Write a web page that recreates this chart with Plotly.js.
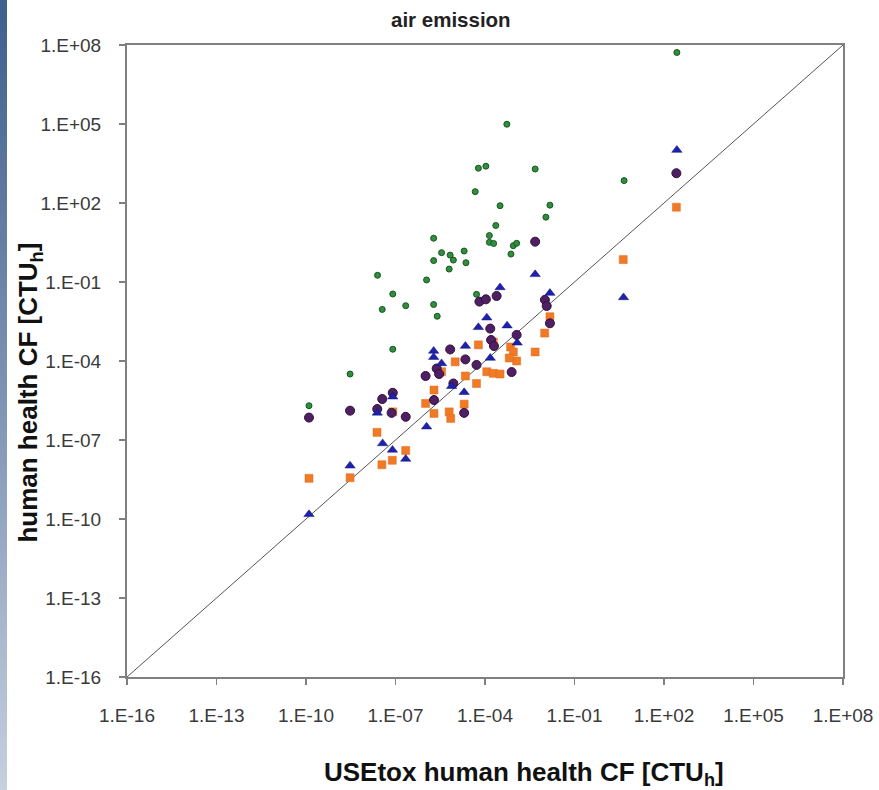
<!DOCTYPE html>
<html>
<head>
<meta charset="utf-8">
<script src="https://cdn.plot.ly/plotly-3.0.1.min.js"></script>
<style>
  html, body { margin: 0; padding: 0; background: #ffffff; }
  #wrap { position: relative; width: 879px; height: 790px; }
  #strip { position: absolute; left: 0; top: 0; width: 7px; height: 790px;
           background: linear-gradient(to bottom, #3f5f8c 0%, #7d93b3 50%, #c6d0de 100%); }
  #chart { position: absolute; left: 0; top: 0; width: 879px; height: 790px; }
</style>
</head>
<body>
<div id="wrap"><div id="strip"></div><div id="chart"></div></div>
<script>
// USEtox human health CF (x) vs. other model human health CF (y), air emission
const greenX = [2.7e2, 5.4e-4, 6.0e-5, 1.07e-4, 4.8e-3, 4.7e-5, 4.6, 3.2e-4, 1.5e-2, 1.1e-2,
  2.3e-4, 1.4e-4, 1.4e-4, 1.95e-4, 8.9e-4, 1.15e-3, 7.4e-4, 1.9e-6, 3.5e-6, 6.8e-6,
  8.7e-6, 2.0e-5, 1.9e-6, 2.3e-5, 6.3e-6, 1.1e-6, 2.5e-8, 8.1e-8, 3.6e-8, 2.2e-7,
  1.9e-6, 2.5e-6, 8.1e-8, 3.0e-9, 1.26e-10, 5.2e-5];
const greenY = [5.2e7, 9.8e4, 2.1e3, 2.5e3, 1.95e3, 2.7e2, 7.1e2, 79, 83, 29,
  14, 5.8, 3.2, 2.9, 2.4, 2.95, 1.15, 4.6, 1.3, 1.05,
  0.68, 1.5, 0.65, 0.54, 0.31, 0.12, 0.18, 3.5e-2, 9.1e-3, 1.26e-2,
  1.4e-2, 5.0e-3, 2.8e-4, 3.2e-5, 2.0e-6, 3.4e-2];

const purpleX = [2.6e2, 4.8e-3, 6.5e-5, 1.07e-4, 2.45e-4, 1.02e-2, 1.17e-2, 1.5e-4, 1.6e-4, 2.0e-4,
  1.15e-3, 1.5e-2, 6.8e-6, 2.2e-5, 5.2e-5, 7.8e-4, 1.02e-6, 2.4e-6, 2.9e-6, 8.7e-6,
  1.95e-6, 2.0e-5, 8.1e-8, 3.6e-8, 2.45e-8, 7.4e-8, 2.2e-7, 3.0e-9, 1.26e-10];
const purpleY = [1.35e3, 3.4, 1.8e-2, 2.2e-2, 2.95e-2, 2.1e-2, 1.23e-2, 1.7e-3, 6.3e-4, 3.7e-4,
  9.8e-4, 2.7e-3, 2.75e-4, 1.15e-4, 7.1e-5, 3.8e-5, 2.7e-5, 5.2e-5, 3.2e-5, 1.4e-5,
  3.3e-6, 1.07e-6, 6.2e-6, 3.6e-6, 1.5e-6, 1.07e-6, 7.6e-7, 1.3e-6, 7.1e-7];

const blueX = [2.7e2, 4.4, 4.8e-3, 3.2e-4, 1.5e-2, 1.15e-4, 6.0e-5, 5.5e-4, 1.2e-3, 1.5e-4,
  2.2e-5, 1.9e-6, 1.9e-6, 3.5e-6, 7.6e-6, 2.0e-5, 8.1e-8, 2.45e-8, 1.1e-6, 3.7e-8,
  7.9e-8, 2.2e-7, 3.0e-9, 1.26e-10];
const blueY = [1.02e4, 2.6e-2, 0.195, 6.2e-2, 3.8e-2, 4.4e-3, 1.9e-3, 2.2e-3, 4.9e-4, 1.3e-4,
  3.7e-4, 2.4e-4, 1.4e-4, 8.1e-5, 1.1e-5, 6.5e-6, 4.4e-6, 1.07e-6, 3.2e-7, 7.4e-8,
  4.2e-8, 1.9e-8, 1.05e-8, 1.5e-10];

const orangeX = [2.6e2, 4.3, 1.5e-2, 1.0e-2, 4.8e-3, 7.2e-4, 8.9e-4, 1.15e-3, 6.5e-4, 6.0e-5,
  1.0e-5, 2.2e-5, 1.15e-4, 1.9e-4, 3.2e-4, 5.2e-5, 3.5e-6, 1.95e-6, 1.02e-6, 1.95e-6,
  6.3e-6, 7.1e-6, 2.0e-5, 8.1e-8, 2.4e-8, 2.2e-7, 7.8e-8, 3.5e-8, 3.0e-9, 1.26e-10, 1.9e-4];
const orangeY = [69, 0.71, 4.8e-3, 1.15e-3, 2.2e-4, 3.4e-4, 2.2e-4, 1.0e-4, 1.3e-4, 4.1e-4,
  9.3e-5, 2.7e-5, 3.9e-5, 3.4e-5, 3.2e-5, 1.4e-5, 3.9e-5, 7.9e-6, 2.45e-6, 1.02e-6,
  1.17e-6, 6.6e-7, 2.3e-6, 1.17e-6, 1.95e-7, 4.0e-8, 1.7e-8, 1.15e-8, 3.7e-9, 3.5e-9, 5.2e-4];

const lineX = [1e-16, 1e8];
const lineY = [1e-16, 1e8];

const tickVals = [1e-16, 1e-13, 1e-10, 1e-7, 1e-4, 1e-1, 1e2, 1e5, 1e8];
const tickText = ["1.E-16", "1.E-13", "1.E-10", "1.E-07", "1.E-04", "1.E-01", "1.E+02", "1.E+05", "1.E+08"];

const FONT = "Liberation Sans, Arial, sans-serif";

const traces = [
  { x: lineX, y: lineY, mode: "lines", type: "scatter",
    line: { color: "#555555", width: 1 }, hoverinfo: "skip" },
  { x: greenX, y: greenY, mode: "markers", type: "scatter",
    marker: { symbol: "circle", size: 6, color: "#2f8f3c", line: { color: "#1a5424", width: 1 } } },
  { x: orangeX, y: orangeY, mode: "markers", type: "scatter",
    marker: { symbol: "square", size: 8, color: "#f07a26", line: { color: "#e06a18", width: 0.5 } } },
  { x: purpleX, y: purpleY, mode: "markers", type: "scatter",
    marker: { symbol: "circle", size: 9, color: "#4e1f63", line: { color: "#33103f", width: 1 } } },
  { x: blueX, y: blueY, mode: "markers", type: "scatter",
    marker: { symbol: "triangle-up", size: 9, color: "#1e22aa", line: { color: "#12157a", width: 0.5 } } }
];

const axisCommon = {
  type: "log",
  range: [-16, 8],
  tickvals: tickVals,
  ticktext: tickText,
  ticks: "outside",
  ticklen: 6,
  tickwidth: 1.5,
  tickcolor: "#7f7f7f",
  showline: true,
  linecolor: "#808080",
  linewidth: 2,
  mirror: true,
  showgrid: false,
  zeroline: false,
  tickfont: { family: FONT, size: 19, color: "#3a3a3a" }
};

const layout = {
  width: 879,
  height: 790,
  margin: { l: 127, r: 36, t: 45, b: 113 },
  paper_bgcolor: "rgba(0,0,0,0)",
  plot_bgcolor: "#ffffff",
  showlegend: false,
  xaxis: Object.assign({}, axisCommon, { ticklabelstandoff: 14 }),
  yaxis: Object.assign({}, axisCommon, { ticklabelstandoff: 14 }),
  annotations: [
    { text: "<b>air emission</b>", xref: "paper", yref: "paper", x: 0.452, y: 1.0, yshift: 26,
      xanchor: "center", yanchor: "middle", showarrow: false,
      font: { family: FONT, size: 20.5, color: "#222222" } },
    { text: "<b>USEtox human health CF [CTU<sub>h</sub>]</b>", xref: "paper", yref: "paper",
      x: 0.555, y: 0, yshift: -96, xanchor: "center", yanchor: "middle", showarrow: false,
      font: { family: FONT, size: 26, color: "#111111" } },
    { text: "<b>human health CF [CTU<sub>h</sub>]</b>", xref: "paper", yref: "paper",
      x: 0, xshift: -97, y: 0.45, xanchor: "center", yanchor: "middle", textangle: -90, showarrow: false,
      font: { family: FONT, size: 26, color: "#111111" } }
  ]
};

Plotly.newPlot("chart", traces, layout, { staticPlot: true, displayModeBar: false });
</script>
</body>
</html>
